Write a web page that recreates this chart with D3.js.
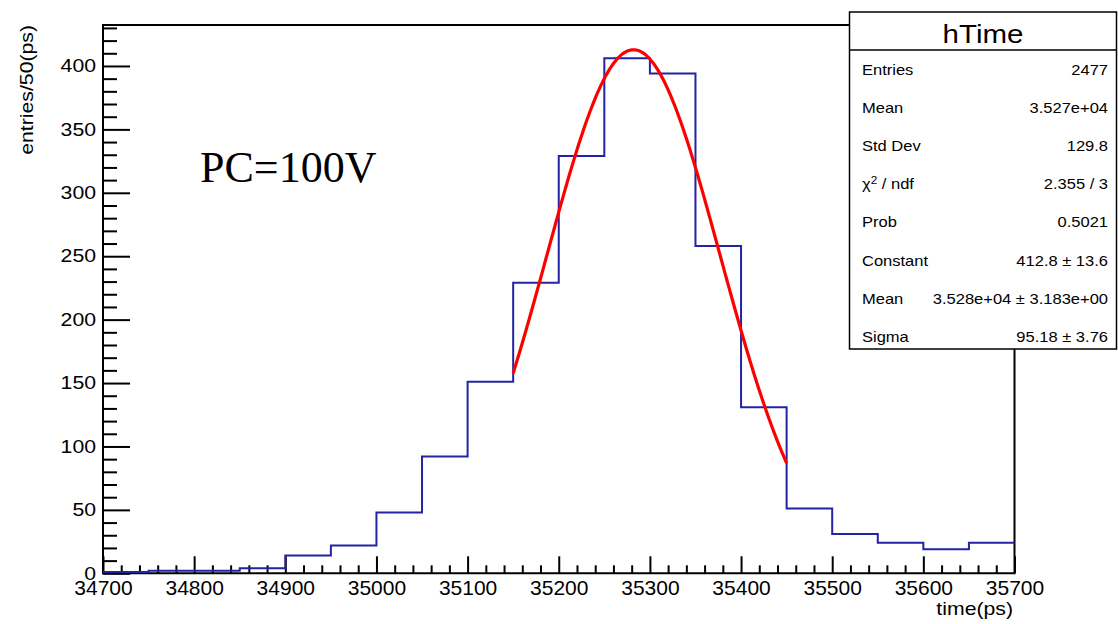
<!DOCTYPE html>
<html>
<head>
<meta charset="utf-8">
<script src="https://cdn.jsdelivr.net/npm/d3@7"></script>
<style>
  body { margin: 0; background: #fff; }
  svg { display: block; }
  text { font-family: "Liberation Sans", Arial, Helvetica, sans-serif; fill: #000; }
</style>
</head>
<body>
<div id="chart"></div>
<script>

// ------------------------------------------------------------
// Data
// ------------------------------------------------------------

// left edges of the 50 ps bins
var binEdges = d3.range(34700, 35700, 50);

// bin contents, one per edge
var binCounts = [1, 2, 2, 4, 14, 22, 48, 92, 151, 229,
                 329, 406, 394, 258, 131, 51, 31, 24, 19, 24];

var xTickValues = [34700, 34800, 34900, 35000, 35100, 35200, 35300, 35400, 35500, 35600, 35700];
var yTickValues = [0, 50, 100, 150, 200, 250, 300, 350, 400];

// gaussian fit parameters and range shown in the stats box
var fitParams = { constant: 412.8, mean: 35282, sigma: 95.18 };
var fitRange = [35150, 35450];

var statLabels = ["Entries", "Mean", "Std Dev", "chi", "Prob", "Constant", "Mean", "Sigma"];
var statValues = ["2477", "3.527e+04", "129.8", "2.355 / 3", "0.5021",
                  "412.8 \u00b1 13.6", "3.528e+04 \u00b1 3.183e+00", "95.18 \u00b1 3.76"];

// ------------------------------------------------------------
// Layout
// ------------------------------------------------------------

var width = 1118, height = 624,
    frame = { left: 103, right: 1014.5, top: 25, bottom: 573.3 },
    SX = 1.18,        // horizontal stretch of the original lettering
    histColor = "#2323a6";

var svg = d3.select("#chart").append("svg")
    .attr("width", width)
    .attr("height", height);

var x = d3.scaleLinear()
    .domain([34700, 35700])
    .range([frame.left, frame.right]);

var y = d3.scaleLinear()
    .domain([0, 432.3])
    .range([frame.bottom, frame.top]);

// ------------------------------------------------------------
// Axes
// ------------------------------------------------------------

function styleAxis(g) {
  g.select(".domain").remove();
  g.selectAll(".tick line").attr("stroke", "#000").attr("stroke-width", 2);
}

// x minor ticks every 20 ps
svg.append("g")
    .attr("transform", "translate(0," + frame.bottom + ")")
    .call(d3.axisBottom(x)
      .tickValues(d3.range(34700, 35701, 20).filter(function (v) { return v % 100 !== 0; }))
      .tickSize(-8)
      .tickFormat(""))
    .call(styleAxis);

var xAxis = svg.append("g")
    .attr("transform", "translate(0," + frame.bottom + ")")
    .call(d3.axisBottom(x)
      .tickValues(xTickValues)
      .tickSize(-17)
      .tickPadding(7)
      .tickFormat(d3.format("d")))
    .call(styleAxis);

xAxis.selectAll("text")
    .attr("font-size", 21)
    .style("font-family", "Liberation Sans, Arial, sans-serif")
    .attr("fill", "#000");

// y minor ticks every 10 entries
svg.append("g")
    .attr("transform", "translate(" + frame.left + ",0)")
    .call(d3.axisLeft(y)
      .tickValues(d3.range(0, 431, 10).filter(function (v) { return v % 50 !== 0; }))
      .tickSize(-14)
      .tickFormat(""))
    .call(styleAxis);

var yAxis = svg.append("g")
    .attr("transform", "translate(" + frame.left + ",0)")
    .call(d3.axisLeft(y)
      .tickValues(yTickValues)
      .tickSize(-27)
      .tickFormat(d3.format("d")))
    .call(styleAxis);

yAxis.selectAll("text")
    .attr("x", 0)
    .attr("transform", "translate(-7,0) scale(" + SX + ",1)")
    .attr("font-size", 18)
    .style("font-family", "Liberation Sans, Arial, sans-serif")
    .attr("fill", "#000");

// frame
svg.append("path")
    .attr("d", "M" + frame.left + "," + frame.bottom +
               "V" + frame.top + "H" + frame.right + "V" + frame.bottom + "Z")
    .attr("fill", "none")
    .attr("stroke", "#000")
    .attr("stroke-width", 2);

// ------------------------------------------------------------
// Histogram and fit
// ------------------------------------------------------------

var stepPoints = binEdges.map(function (e, i) { return [e, binCounts[i]]; });
stepPoints.push([35700, binCounts[binCounts.length - 1]]);

svg.append("path")
    .datum(stepPoints)
    .attr("fill", "none")
    .attr("stroke", histColor)
    .attr("stroke-width", 2)
    .attr("d", d3.line()
      .curve(d3.curveStepAfter)
      .x(function (d) { return x(d[0]); })
      .y(function (d) { return y(d[1]); }));

function gauss(t) {
  var z = (t - fitParams.mean) / fitParams.sigma;
  return fitParams.constant * Math.exp(-0.5 * z * z);
}

svg.append("path")
    .datum(d3.range(fitRange[0], fitRange[1] + 0.1, 2))
    .attr("fill", "none")
    .attr("stroke", "#ff0000")
    .attr("stroke-width", 3.2)
    .attr("d", d3.line()
      .x(function (t) { return x(t); })
      .y(function (t) { return y(gauss(t)); }));

// ------------------------------------------------------------
// Titles and annotation
// ------------------------------------------------------------

function stretchedText(px, py, str, size, anchor) {
  return svg.append("g")
      .attr("transform", "translate(" + px + "," + py + ")")
    .append("text")
      .attr("transform", "scale(" + SX + ",1)")
      .attr("font-size", size)
      .attr("text-anchor", anchor || "start")
      .text(str);
}

stretchedText(1013, 615, "time(ps)", 18, "end");

svg.append("g")
    .attr("transform", "translate(33,25) rotate(-90)")
  .append("text")
    .attr("transform", "scale(" + SX + ",1)")
    .attr("font-size", 18)
    .attr("text-anchor", "end")
    .text("entries/50(ps)");

// CSS wins over presentation attributes, so the serif face goes in style
svg.append("text")
    .attr("x", 200)
    .attr("y", 182)
    .style("font-family", "'Liberation Serif', 'Times New Roman', serif")
    .attr("font-size", 44)
    .text("PC=100V");

// ------------------------------------------------------------
// Stats box
// ------------------------------------------------------------

var box = { left: 849.5, right: 1116.5, top: 12, bottom: 349, header: 50 };

svg.append("rect")
    .attr("x", box.left)
    .attr("y", box.top)
    .attr("width", box.right - box.left)
    .attr("height", box.bottom - box.top)
    .attr("fill", "#fff")
    .attr("stroke", "#000")
    .attr("stroke-width", 1.5);

svg.append("line")
    .attr("x1", box.left).attr("x2", box.right)
    .attr("y1", box.header).attr("y2", box.header)
    .attr("stroke", "#000")
    .attr("stroke-width", 1.5);

stretchedText((box.left + box.right) / 2, 43, "hTime", 25, "middle");

statLabels.forEach(function (label, i) {
  var by = 75 + i * 38.1;
  var t = stretchedText(862, by, "", 14, "start");
  if (label === "chi") {
    t.append("tspan").text("\u03c7");
    t.append("tspan").attr("font-size", 10).attr("dy", -5).text("2");
    t.append("tspan").attr("dy", 5).text(" / ndf");
  } else {
    t.text(label);
  }
  stretchedText(1108, by, statValues[i], 14, "end");
});

</script>
</body>
</html>
